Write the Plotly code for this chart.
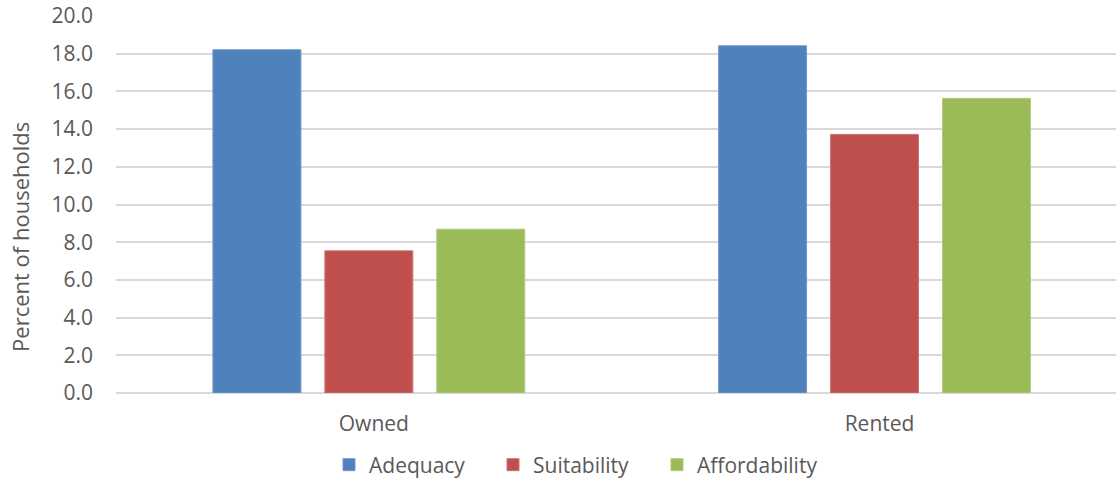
import plotly.graph_objects as go

# Housing indicators by tenure (percent of households)
tenure = ["Owned", "Rented"]
adequacy = [18.21, 18.42]
suitability = [7.54, 13.72]
affordability = [8.69, 15.63]

y_ticks = [0, 2, 4, 6, 8, 10, 12, 14, 16, 18, 20]
y_tick_text = [f"{v:.1f}" for v in y_ticks]

FONT = "Open Sans"
TEXT = "#595959"
GRID = "#d9d9d9"

series = [
    ("Adequacy", adequacy, "#4F81BD", "#7398c9"),
    ("Suitability", suitability, "#C0504D", "#cc7371"),
    ("Affordability", affordability, "#9BBB59", "#b1c97f"),
]

fig = go.Figure()
for name, vals, fill, edge in series:
    fig.add_trace(go.Bar(
        name=name, x=tenure, y=vals,
        marker=dict(color=fill, line=dict(color=edge, width=1)),
    ))

fig.update_layout(
    width=1116, height=478,
    margin=dict(l=116, r=0, t=16, b=85, autoexpand=False),
    paper_bgcolor="white", plot_bgcolor="white",
    barmode="group", bargap=0.336, bargroupgap=0.214,
    font=dict(family=FONT, size=21, color=TEXT),
    showlegend=True,
    legend=dict(
        orientation="h", x=0.213, xanchor="left", y=-0.191, yanchor="middle",
        font=dict(family=FONT, size=21, color=TEXT),
        entrywidth=119, traceorder="normal",
    ),
    xaxis=dict(
        range=[-0.5, 1.4775], showgrid=False, showline=False, zeroline=False,
        ticks="", tickfont=dict(family=FONT, size=21, color=TEXT),
        ticklabelstandoff=16, ticklabelshift=5,
    ),
    yaxis=dict(
        range=[0, 20], tickvals=y_ticks, ticktext=y_tick_text,
        showgrid=True, gridcolor=GRID, gridwidth=1.5,
        zeroline=True, zerolinecolor=GRID, zerolinewidth=1.5,
        showline=False, ticks="",
        tickfont=dict(family=FONT, size=21, color=TEXT),
        ticklabelstandoff=22,
    ),
    annotations=[dict(
        text="Percent of households", textangle=-90,
        xref="paper", yref="paper", x=-0.096, y=0.414,
        xanchor="center", yanchor="middle", showarrow=False,
        font=dict(family=FONT, size=22, color=TEXT),
    )],
)

fig.write_html("out.html")
